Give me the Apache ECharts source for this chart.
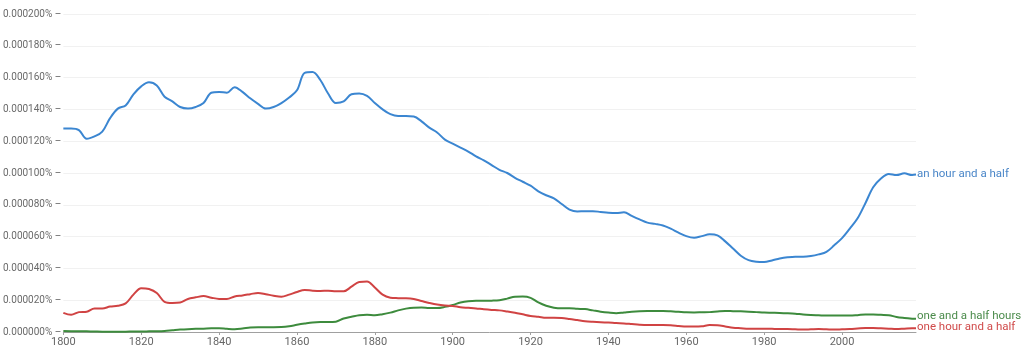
<!DOCTYPE html>
<html><head><meta charset="utf-8">
<script src="https://cdn.jsdelivr.net/npm/echarts@6/dist/echarts.min.js"></script>
<style>html,body{margin:0;padding:0;background:#fff}#c{width:1024px;height:352px}</style>
</head><body><div id="c"></div>
<script>
// values in millionths of a percent (1 = 0.000001%)
const years = [];
for (let y = 1800; y <= 2018; y += 2) years.push(y);
years.push(2019);

const anHourAndAHalf = [128,128,127,121.5,123,126,134.5,140.5,142.5,149.5,154.5,157,155,148,145,141.5,140.5,141.5,144,150.5,151,150.5,154,151,147,143.5,140.5,141.5,144,147.5,152,163,163.5,158.5,150,144,145,149.5,150,148.5,144,140,137,135.8,135.8,135.5,132.5,128.5,125.5,121,118.5,116,113.5,110.5,108,105,102,100,97,94.5,92,88.5,86,84,80.5,77,75.8,76,76,75.5,75,74.8,75.3,73,70.8,68.8,68,67,65,62.5,60.3,59.3,60.3,61.4,60.8,57,52.5,48,45.2,44.2,44,45,46.2,47,47.4,47.4,47.8,48.8,50.4,54.5,59,65,71.5,81,91,96.5,99.4,98.7,99.8,98.7,99];
const oneHourAndAHalf = [12,10.8,12.5,12.8,14.8,14.8,16,16.5,18,23.5,27.5,27,24.5,19,18.2,18.5,20.8,21.8,22.6,21.6,20.8,20.8,22.3,23,23.8,24.6,23.8,22.8,22.2,23.5,25.2,26.4,26,25.8,26,25.6,25.6,28.5,31.5,31.8,28,23.5,21.6,21.3,21.2,20.7,19.5,18.3,17.3,16.7,16.4,15.6,15.2,14.8,14.3,13.9,13.6,12.9,12.1,11.1,10.1,9.6,9,9,8.8,8.2,7.5,6.8,6.4,6.1,5.9,5.6,5.4,5,4.6,4.4,4.4,4.4,4.2,3.8,3.4,3.4,3.6,4.4,4.2,3.5,2.7,2.4,2.1,2.1,2.1,2,1.9,1.9,1.7,1.5,1.7,1.9,1.7,1.5,1.7,1.9,2.2,2.5,2.5,2.3,2.1,1.9,2.1,2.3,2.3];
const oneAndAHalfHours = [0.6,0.5,0.5,0.4,0.3,0.2,0.2,0.2,0.2,0.3,0.3,0.4,0.5,0.7,1.1,1.5,1.8,2,2.1,2.3,2.3,2,1.8,2.2,2.8,3,3,3,3.1,3.6,4.5,5.3,6,6.3,6.3,6.5,8.5,9.6,10.6,10.8,10.5,11.2,12.2,13.6,14.7,15.3,15.4,15.1,15.1,15.8,17,18.5,19.4,19.7,19.6,19.7,20,21,22.2,22.3,21.5,18.6,16.5,15.3,14.9,14.9,14.6,14.4,13.6,12.8,12.2,11.8,12.3,12.8,13.1,13.2,13.2,13.2,13,12.7,12.4,12.3,12.4,12.5,12.9,13.2,13.1,13,12.8,12.5,12.2,12.1,12,11.8,11.5,11,10.7,10.5,10.3,10.3,10.3,10.3,10.6,11,11,10.8,10.6,9.4,8.8,8.4,8.3];

const seriesNames = ['an hour and a half','one and a half hours','one hour and a half'];
const seriesColors = ['#3b86d1','#3d8b3d','#d04343'];
const labelColors = ['#4a86c8','#4b8b4b','#d04a4a'];
const seriesData = [anHourAndAHalf, oneAndAHalfHours, oneHourAndAHalf];
const labelOffsets = [[0,0],[0,-3],[0,-1]];

const chart = echarts.init(document.getElementById('c'), null, {renderer:'canvas'});
chart.setOption({
  animation:false,
  textStyle:{fontFamily:'Roboto'},
  grid:{left:62,right:108,top:14,bottom:20,containLabel:false},
  xAxis:{
    type:'value', min:1800, max:2019, interval:20,
    axisLine:{lineStyle:{color:'#a0a0a0'}},
    axisTick:{show:true,length:3,lineStyle:{color:'#a0a0a0'}},
    axisLabel:{color:'#666',fontSize:11,margin:5,showMaxLabel:false,
      formatter:v=> (v%20===0 ? String(v) : '')},
    splitLine:{show:false}
  },
  yAxis:{
    type:'value', min:0, max:200, interval:20,
    axisLine:{show:false},
    axisTick:{show:false},
    axisLabel:{color:'#6a6a6a',fontSize:10,margin:2,
      formatter:v=> (v/1e6).toFixed(6)+'% –'},
    splitLine:{lineStyle:{color:'#f1f1f1'}}
  },
  series: seriesNames.map((n,i)=>({
    name:n, type:'line', smooth:0.35, showSymbol:false,
    data: years.map((y,j)=>[y, seriesData[i][j]]),
    lineStyle:{width:2,color:seriesColors[i]},
    itemStyle:{color:seriesColors[i]},
    endLabel:{show:true,formatter:n,color:labelColors[i],fontSize:11.5,distance:1,offset:labelOffsets[i]}
  }))
});
</script></body></html>
